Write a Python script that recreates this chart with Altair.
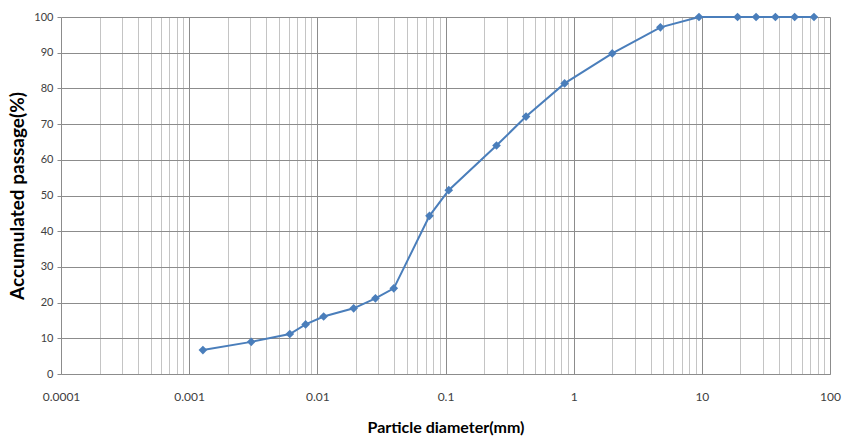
import altair as alt
import pandas as pd

# Particle diameter (mm) and accumulated passage (%)
diameter = [0.00128, 0.00305, 0.0061, 0.0081, 0.0112, 0.0192, 0.0284, 0.0395,
            0.075, 0.106, 0.25, 0.425, 0.85, 2.0, 4.75, 9.5, 19.0, 26.5, 37.5, 53.0, 75.0]
passage = [6.7, 9.0, 11.2, 13.9, 16.1, 18.4, 21.2, 24.0,
           44.3, 51.5, 64.0, 72.1, 81.4, 89.8, 97.1, 100, 100, 100, 100, 100, 100]

x_ticks = [m * 10.0 ** k for k in range(-4, 2) for m in range(1, 10)] + [100.0]
y_ticks = [0, 10, 20, 30, 40, 50, 60, 70, 80, 90, 100]

df = pd.DataFrame({"d": diameter, "p": passage})

FONT = "Lato"
decade_test = "abs(log(datum.value)/LN10 - round(log(datum.value)/LN10)) < 1e-6"

x_enc = alt.X(
    "d:Q",
    scale=alt.Scale(type="log", domain=[0.0001, 100], nice=False),
    axis=alt.Axis(
        title="Particle diameter(mm)",
        values=x_ticks,
        labelExpr=f"({decade_test}) ? format(datum.value, '~g') : ''",
        labelOverlap=False,
        labelFlush=False,
        grid=True,
        gridColor={"condition": {"test": decade_test, "value": "#8c8c8c"}, "value": "#c4c4c4"},
        gridWidth=1,
        ticks=False,
        domain=True,
        domainColor="#8c8c8c",
        labelPadding=17,
        labelFontSize=12,
        labelColor="#404040",
        labelFont=FONT,
        titleFont=FONT,
        titleFontSize=16,
        titleFontWeight="bold",
        titleColor="#000000",
        titlePadding=17,
    ),
)

y_enc = alt.Y(
    "p:Q",
    scale=alt.Scale(domain=[0, 100], nice=False),
    axis=alt.Axis(
        title="Accumulated passage(%)",
        values=y_ticks,
        tickCount=11,
        labelOverlap=False,
        grid=True,
        gridColor="#8c8c8c",
        gridWidth=1,
        ticks=True,
        tickSize=4,
        tickColor="#8c8c8c",
        domain=False,
        labelPadding=4,
        labelFontSize=11,
        labelColor="#404040",
        labelFont=FONT,
        titleFont=FONT,
        titleFontSize=19,
        titleFontWeight="bold",
        titleColor="#000000",
        titlePadding=6,
    ),
)

base = alt.Chart(df).encode(x=x_enc, y=y_enc)
line = base.mark_line(color="#4A7EBB", strokeWidth=2)
pts = base.mark_point(shape="diamond", filled=True, color="#4A7EBB", size=75, opacity=1)

chart = (
    alt.layer(line, pts)
    .properties(
        width=769,
        height=357,
        autosize=alt.AutoSizeParams(type="none"),
        padding={"left": 61, "top": 17, "right": 15, "bottom": 66},
        background="white",
    )
    .configure_view(stroke=None)
)

chart.save("out.html", embed_options={"renderer": "svg", "actions": False})
